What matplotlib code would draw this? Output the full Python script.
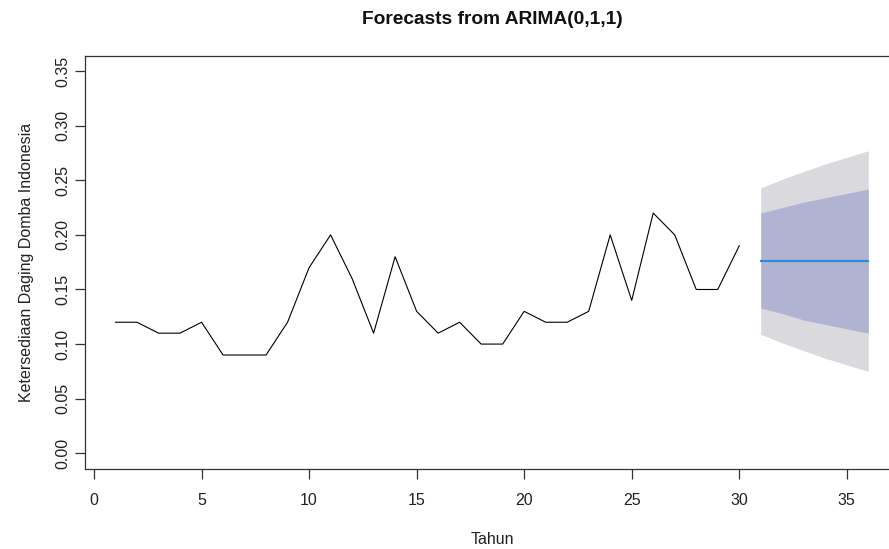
import matplotlib.pyplot as plt

plt.rcParams["font.family"] = ["Liberation Sans", "DejaVu Sans"]

# ── data ──────────────────────────────────────────────────────────
tahun = list(range(1, 31))
ketersediaan = [0.12, 0.12, 0.11, 0.11, 0.12, 0.09, 0.09, 0.09, 0.12, 0.17,
                0.20, 0.16, 0.11, 0.18, 0.13, 0.11, 0.12, 0.10, 0.10, 0.13,
                0.12, 0.12, 0.13, 0.20, 0.14, 0.22, 0.20, 0.15, 0.15, 0.19]

tahun_fc = [31, 32, 33, 34, 35, 36]
fc_mean = [0.176, 0.176, 0.176, 0.176, 0.176, 0.176]
lo80 = [0.133, 0.128, 0.122, 0.118, 0.114, 0.110]
hi80 = [0.220, 0.225, 0.230, 0.234, 0.238, 0.242]
lo95 = [0.109, 0.101, 0.094, 0.087, 0.081, 0.075]
hi95 = [0.243, 0.251, 0.258, 0.265, 0.271, 0.277]

x_ticks = [0, 5, 10, 15, 20, 25, 30, 35]
y_ticks = [0.00, 0.05, 0.10, 0.15, 0.20, 0.25, 0.30, 0.35]

W, H = 889, 549
fig = plt.figure(figsize=(W / 100, H / 100), dpi=100)
fig.patch.set_facecolor("white")

# plot box runs past the right edge, as in the saved R device
ax = fig.add_axes([85.4 / W, 80 / H, 813 / W, 413.3 / H])

ax.fill_between(tahun_fc, lo95, hi95, color="#d9d9de", linewidth=0)
ax.fill_between(tahun_fc, lo80, hi80, color="#b0b4d2", linewidth=0)
ax.plot(tahun_fc, fc_mean, color="#2f8ad8", linewidth=1.6)
ax.plot(tahun, ketersediaan, color="black", linewidth=0.8)

ax.set_xlim(-0.4, 37.4)
ax.set_ylim(-0.0144, 0.3641)
ax.set_xticks(x_ticks)
ax.set_xticklabels([str(t) for t in x_ticks])
ax.set_yticks(y_ticks)
ax.set_yticklabels([f"{v:.2f}" for v in y_ticks], rotation=90, va="center")

for sp in ax.spines.values():
    sp.set_color("#333333")
    sp.set_linewidth(0.9)

ax.tick_params(axis="both", direction="out", length=7, width=0.9,
               colors="#333333", labelcolor="#222222", labelsize=11.5)
ax.tick_params(axis="x", pad=10)
ax.tick_params(axis="y", pad=3.5)

fig.text(492 / W, 1 - 19 / H, "Forecasts from ARIMA(0,1,1)",
         ha="center", va="center", fontsize=13.8, fontweight="bold",
         color="#111111")
fig.text(492 / W, 10 / H, "Tahun", ha="center", va="center",
         fontsize=11.5, color="#222222")
fig.text(27 / W, 1 - 262.4 / H, "Ketersediaan Daging Domba Indonesia",
         rotation=90, ha="center", va="center", fontsize=11.5,
         color="#222222")

fig.savefig("out.png", dpi=100)
